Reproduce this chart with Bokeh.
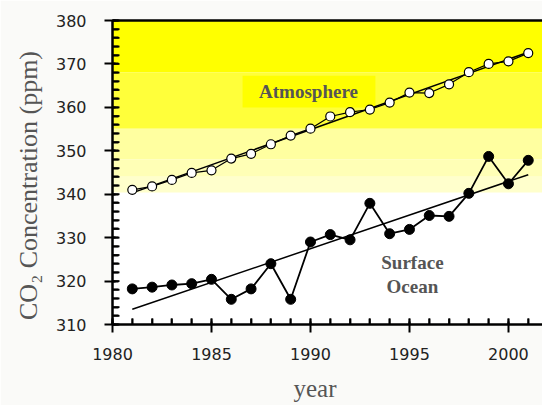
import numpy as np
from bokeh.plotting import figure
from bokeh.models import (SingleIntervalTicker, FixedTicker, LinearAxis, Range1d, BoxAnnotation,
                          Label, ColumnDataSource)
from bokeh.embed import file_html
from bokeh.resources import INLINE

# ---- data ----
years = list(range(1981, 2002))
atmosphere = [341.0, 341.8, 343.3, 344.9, 345.5, 348.2, 349.3, 351.5, 353.5, 355.1,
              357.9, 358.9, 359.5, 361.1, 363.4, 363.3, 365.3, 368.1, 370.0, 370.6, 372.5]
ocean = [318.2, 318.6, 319.1, 319.4, 320.4, 315.8, 318.2, 324.0, 315.8, 329.0,
         330.7, 329.5, 337.9, 330.9, 331.9, 335.1, 334.9, 340.2, 348.7, 342.4, 347.8]
trend_years = [1981, 2001]
atmosphere_trend = [340.3, 372.7]
ocean_trend = [313.5, 344.5]

X0, X1, Y0, Y1 = 1980, 2001.72, 310, 380
p = figure(width=542, height=405, output_backend="svg", toolbar_location=None,
           x_range=Range1d(X0, X1), y_range=Range1d(Y0, Y1),
           min_border_left=112, min_border_right=0, min_border_top=20, min_border_bottom=81)
p.outline_line_color = None
p.grid.visible = False
p.background_fill_color = "white"
p.border_fill_color = "#fafaf8"

# background bands
bands = [(368.0, 380, "#ffff00"), (355.1, 368.0, "#ffff3a"), (348.0, 355.1, "#ffffa0"),
         (344.0, 348.0, "#ffffb6"), (340.4, 344.0, "#ffffcc")]
for b, t, c in bands:
    p.add_layout(BoxAnnotation(bottom=b, top=t, fill_color=c, fill_alpha=1.0, line_color=None, level="underlay"))

# label boxes
p.add_layout(BoxAnnotation(left=1986.57, right=1993.28, bottom=359.97, top=367.3,
                           fill_color="#ffff00", fill_alpha=1.0, line_color=None, level="underlay"))
p.add_layout(BoxAnnotation(left=1991.77, right=1998.59, bottom=315.5, top=328.2,
                           fill_color="white", fill_alpha=1.0, line_color=None, level="underlay"))

# inward tick marks (guides)
px_x = (X1 - X0) / 430.0   # data units per pixel, x
px_y = (Y1 - Y0) / 304.0   # data units per pixel, y
ymin = [float(v) for v in np.arange(Y0, Y1 + 0.01, 2.0)]
xmin = [float(v) for v in np.arange(X0, 2001.5, 1.0)]
ytick_src = ColumnDataSource(dict(x0=[X0] * len(ymin), x1=[X0 + 7 * px_x] * len(ymin), y=ymin))
xtick_src = ColumnDataSource(dict(x=xmin, y0=[Y0] * len(xmin), y1=[Y0 + 6 * px_y] * len(xmin)))
p.segment(x0="x0", y0="y", x1="x1", y1="y", source=ytick_src, line_color="black", line_width=1.8,
          level="overlay")
p.segment(x0="x", y0="y0", x1="x", y1="y1", source=xtick_src, line_color="black", line_width=1.8,
          level="overlay")

# trends
p.line(trend_years, atmosphere_trend, line_color="black", line_width=1.5)
p.line(trend_years, ocean_trend, line_color="black", line_width=1.5)

src = ColumnDataSource(dict(year=years, atm=atmosphere, ocean=ocean))
p.line("year", "atm", source=src, line_color="black", line_width=1.2)
p.scatter("year", "atm", source=src, size=9, fill_color="white", line_color="black", line_width=1.2)
p.line("year", "ocean", source=src, line_color="black", line_width=1.8)
p.scatter("year", "ocean", source=src, size=10, fill_color="black", line_color="black")

serif = "Liberation Serif"
for txt, x, y in [("Atmosphere", 1989.9, 363.65), ("Surface", 1995.15, 324.3), ("Ocean", 1995.15, 318.75)]:
    p.add_layout(Label(x=x, y=y, text=txt, text_font=serif, text_font_size="19px",
                       text_font_style="bold", text_color="#555555", text_align="center",
                       text_baseline="middle"))

# axes
xa = p.xaxis[0]
xa.ticker = SingleIntervalTicker(interval=5, num_minor_ticks=5)
ya = p.yaxis[0]
ya.ticker = SingleIntervalTicker(interval=10, num_minor_ticks=5)
for ax in (xa, ya):
    ax.axis_line_width = 2.5
    ax.axis_line_color = "black"
    ax.major_tick_line_width = 2
    ax.major_tick_line_color = "black"
    ax.major_tick_out = 8
    ax.major_tick_in = 3
    ax.minor_tick_line_color = "black"
    ax.minor_tick_line_width = 1.8
    ax.minor_tick_in = 6
    ax.minor_tick_out = 0
    ax.major_label_text_font = "DejaVu Sans"
    ax.major_label_text_font_size = "16px"
    ax.major_label_text_color = "#222222"
    ax.axis_label_text_font = serif
    ax.axis_label_text_font_style = "normal"
    ax.axis_label_text_color = "#555555"
xa.major_label_standoff = 15
ya.major_label_standoff = 18
ya.axis_label = "CO₂ Concentration (ppm)" + "\u00a0" * 4
ya.axis_label_text_font_size = "26px"
ya.axis_label_standoff = 10
xa.axis_label = "year" + "\u00a0" * 4
xa.axis_label_text_font_size = "25px"
xa.axis_label_standoff = 12

top = LinearAxis(ticker=FixedTicker(ticks=[]), major_tick_in=0, major_tick_out=0,
                 minor_tick_in=0, minor_tick_out=0,
                 axis_line_width=2.5, axis_line_color="black")
p.add_layout(top, "above")

open("out.html", "w").write(file_html(p, INLINE))
